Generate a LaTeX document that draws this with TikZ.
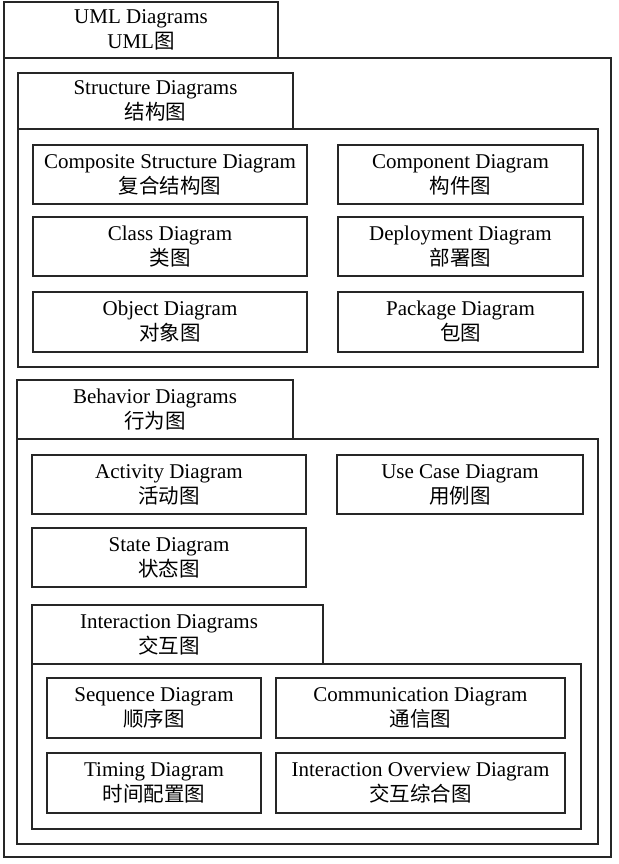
\documentclass[tikz,border=0pt]{standalone}
\usepackage{fontspec}
\setmainfont{Liberation Serif}
\newfontfamily\cjk{Noto Sans CJK SC}
\newcommand{\zh}[1]{{\cjk\fontsize{20.5}{25}\selectfont #1}}
\newcommand{\rbox}[6]{%
  \node[umlbox, minimum width={#4-#2}, minimum height={#5-#3}] (#1) at ({(#2+#4)/2},{(#3+#5)/2}) {#6};}
\newcommand{\rframe}[5]{%
  \node[umlbox, minimum width={#4-#2}, minimum height={#5-#3}] (#1) at ({(#2+#4)/2},{(#3+#5)/2}) {};}
\begin{document}
\begin{tikzpicture}[x=1pt,y=-1pt,
  umlbox/.style={draw=black!85, line width=1.1pt, rectangle, inner sep=0pt, align=center,
    font=\fontsize{21}{25}\selectfont},
  lbl/.style={inner sep=0pt, align=center, font=\fontsize{21}{25}\selectfont}]
\useasboundingbox (0,0) rectangle (618,864);
% outer
\rframe{outer}{4}{58}{611}{857}
\rbox{umltab}{4}{2}{278}{58}{UML Diagrams\\UML\zh{图}}
% structure
\rframe{sframe}{18}{129}{598}{367}
\rbox{stab}{18}{73}{293}{129}{Structure Diagrams\\\zh{结构图}}
\rbox{composite}{33}{145}{307}{204}{Composite Structure Diagram\\\zh{复合结构图}}
\rbox{component}{338}{145}{583}{204}{Component Diagram\\\zh{构件图}}
\rbox{class}{33}{217}{307}{276}{Class Diagram\\\zh{类图}}
\rbox{deploy}{338}{217}{583}{276}{Deployment Diagram\\\zh{部署图}}
\rbox{object}{33}{292}{307}{352}{Object Diagram\\\zh{对象图}}
\rbox{package}{338}{292}{583}{352}{Package Diagram\\\zh{包图}}
% behavior
\rframe{bframe}{17}{439}{598}{844}
\rbox{btab}{17}{380}{293}{439}{Behavior Diagrams\\\zh{行为图}}
\rbox{activity}{32}{455}{306}{514}{Activity Diagram\\\zh{活动图}}
\rbox{usecase}{337}{455}{583}{514}{Use Case Diagram\\\zh{用例图}}
\rbox{state}{32}{528}{306}{587}{State Diagram\\\zh{状态图}}
% interaction
\rframe{iframe}{32}{664}{581}{829}
\rframe{itab}{32}{605}{323}{664}
\node[lbl] (itabtext) at (169,634.5) {Interaction Diagrams\\\zh{交互图}};
\rbox{sequence}{47}{678}{261}{738}{Sequence Diagram\\\zh{顺序图}}
\rbox{comm}{276}{678}{565}{738}{Communication Diagram\\\zh{通信图}}
\rbox{timing}{47}{753}{261}{813}{Timing Diagram\\\zh{时间配置图}}
\rbox{overview}{276}{753}{565}{813}{Interaction Overview Diagram\\\zh{交互综合图}}
\end{tikzpicture}
\end{document}
